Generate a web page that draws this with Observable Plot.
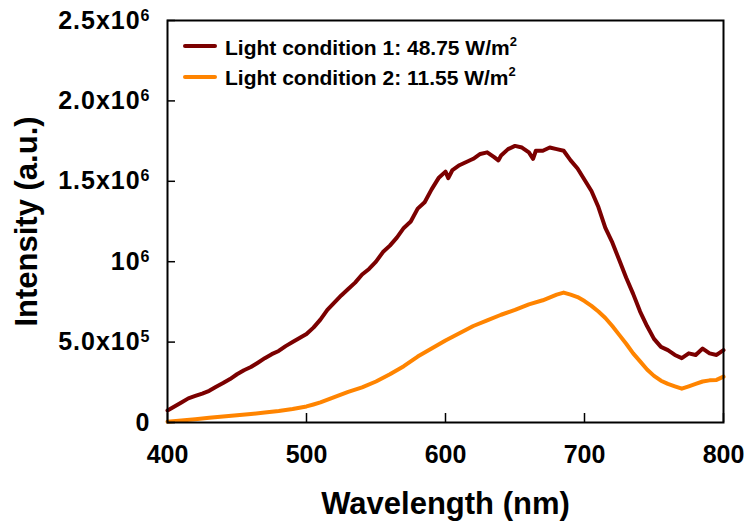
<!DOCTYPE html>
<html>
<head>
<meta charset="utf-8">
<script src="https://cdn.jsdelivr.net/npm/d3@7"></script>
<script src="https://cdn.jsdelivr.net/npm/@observablehq/plot@0.6"></script>
<style>
  body { margin: 0; background: #fff; }
  #wrap { position: relative; width: 753px; height: 525px; font-family: "Liberation Sans", Arial, sans-serif; font-weight: bold; }
  .row { position: absolute; left: 225px; font-size: 21px; line-height: 30px; white-space: nowrap; color: #000; }
  .sw { position: absolute; left: 183px; width: 34px; height: 4px; border-radius: 2px; }
  .sup { position: relative; top: -9px; font-size: 13px; }
</style>
</head>
<body>
<div id="wrap"></div>
<script>
// Light condition 1: 48.75 W/m2
const wl1 = [400,405,410,415,420,425,430,435,440,445,450,455,460,465,470,475,480,485,490,495,500,505,510,515,520,525,530,535,540,545,550,555,560,565,570,575,580,585,590,595,600,602,605,610,615,620,625,630,635,638,640,645,650,655,660,663,665,670,675,680,685,690,695,700,705,710,715,720,725,730,735,740,745,750,755,760,765,770,775,780,785,790,795,800];
const int1 = [75e3,100e3,125e3,150e3,165e3,180e3,197e3,222e3,245e3,270e3,300e3,325e3,345e3,372e3,400e3,425e3,445e3,475e3,500e3,525e3,550e3,590e3,640e3,700e3,745e3,790e3,830e3,870e3,920e3,955e3,1.00e6,1.06e6,1.10e6,1.15e6,1.21e6,1.25e6,1.33e6,1.37e6,1.45e6,1.52e6,1.56e6,1.52e6,1.57e6,1.60e6,1.62e6,1.64e6,1.67e6,1.68e6,1.65e6,1.63e6,1.66e6,1.70e6,1.72e6,1.71e6,1.68e6,1.64e6,1.69e6,1.69e6,1.71e6,1.70e6,1.69e6,1.63e6,1.58e6,1.51e6,1.44e6,1.34e6,1.21e6,1.12e6,1.01e6,0.90e6,0.80e6,0.69e6,0.60e6,0.52e6,0.47e6,0.45e6,0.42e6,0.40e6,0.43e6,0.42e6,0.46e6,0.43e6,0.42e6,0.45e6];
// Light condition 2: 11.55 W/m2
const wl2 = [400,410,420,430,440,450,460,470,480,490,500,505,510,520,530,540,550,560,570,575,580,590,600,610,620,630,640,650,660,670,680,685,690,695,700,705,710,715,720,725,730,735,740,745,750,755,760,765,770,775,780,785,790,795,800];
const int2 = [5e3,12e3,20e3,29e3,37e3,45e3,53e3,62e3,72e3,84e3,100e3,112e3,125e3,158e3,190e3,218e3,255e3,300e3,350e3,380e3,410e3,460e3,510e3,555e3,600e3,635e3,670e3,700e3,735e3,760e3,795e3,808e3,795e3,780e3,755e3,725e3,690e3,650e3,600e3,545e3,490e3,430e3,380e3,330e3,290e3,260e3,240e3,225e3,210e3,225e3,240e3,255e3,262e3,265e3,285e3];

const seriesNames = ["Light condition 1: 48.75 W/m^2", "Light condition 2: 11.55 W/m^2"];
const seriesColors = ["#7b0000", "#ff8400"];
const xTicks = [400, 500, 600, 700, 800];
const yTicks = [0, 5e5, 1e6, 1.5e6, 2e6, 2.5e6];
const yTickLabels = ["0", "5.0x10^5", "10^6", "1.5x10^6", "2.0x10^6", "2.5x10^6"];
const xTitle = "Wavelength (nm)";
const yTitle = "Intensity (a.u.)";

const W = 753, H = 525, ML = 167, MR = 30, MT = 20, MB = 103;
const plotW = W - ML - MR, plotH = H - MT - MB;
const tickLenX = 9, tickLenY = 8;

const d1 = wl1.map((w, i) => ({w, v: int1[i]}));
const d2 = wl2.map((w, i) => ({w, v: int2[i]}));

const chart = Plot.plot({
  width: W,
  height: H,
  marginLeft: ML,
  marginRight: MR,
  marginTop: MT,
  marginBottom: MB,
  style: {fontFamily: "'Liberation Sans', Arial, sans-serif", fontWeight: "bold", fontSize: "24px", color: "#000", background: "#fff", overflow: "visible"},
  x: {domain: [400, 800]},
  y: {domain: [0, 2.5e6]},
  marks: [
    Plot.line(d2, {x: "w", y: "v", stroke: seriesColors[1], strokeWidth: 4, strokeLinejoin: "round"}),
    Plot.line(d1, {x: "w", y: "v", stroke: seriesColors[0], strokeWidth: 4, strokeLinejoin: "round"}),
    Plot.ruleX(xTicks, {x: d => d, insetTop: plotH - tickLenX, stroke: "#000", strokeWidth: 1.5}),
    Plot.ruleY(yTicks, {y: d => d, insetRight: plotW - tickLenY, stroke: "#000", strokeWidth: 1.5}),
    Plot.axisX({ticks: xTicks, tickSize: 0, tickPadding: 23, tickFormat: d => String(d), fontSize: 25, fontWeight: "bold",
      label: xTitle, labelAnchor: "center", labelOffset: 91}),
    Plot.axisY({ticks: yTicks, tickSize: 0, tickPadding: 17, tickFormat: d => yTickLabels[yTicks.indexOf(d)], fontSize: 25, fontWeight: "bold",
      label: yTitle, labelAnchor: "center", labelOffset: 153}),
    Plot.frame({stroke: "#000", strokeWidth: 2})
  ]
});

// axis titles: exact text (no arrows), larger font
d3.select(chart).selectAll("g[aria-label='x-axis label'] text").attr("font-size", 31).text(xTitle);
d3.select(chart).selectAll("g[aria-label='y-axis label'] text").attr("font-size", 31).text(yTitle);
// superscripts on y tick labels
d3.select(chart).selectAll("g[aria-label='y-axis tick label'] text").each(function() {
  const t = d3.select(this);
  const parts = t.text().split("^");
  t.attr("letter-spacing", 1);
  if (parts.length === 2) {
    t.text(null);
    t.append("tspan").text(parts[0]);
    t.append("tspan").attr("font-size", 16).attr("dy", "-0.5em").text(parts[1]);
  }
});

const wrap = document.getElementById("wrap");
wrap.appendChild(chart);
seriesNames.forEach((name, i) => {
  const sw = document.createElement("div");
  sw.className = "sw";
  sw.style.background = seriesColors[i];
  sw.style.top = (44 + i * 31) + "px";
  wrap.appendChild(sw);
  const row = document.createElement("div");
  row.className = "row";
  row.style.top = (33 + i * 30) + "px";
  const [base, sup] = name.split("^");
  row.textContent = base;
  const sp = document.createElement("span");
  sp.className = "sup";
  sp.textContent = sup;
  row.appendChild(sp);
  wrap.appendChild(row);
});
</script>
</body>
</html>
